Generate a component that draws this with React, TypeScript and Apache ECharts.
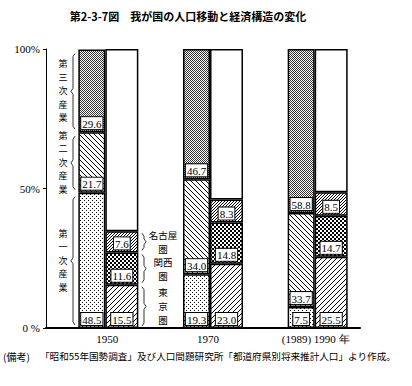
import React, { useEffect, useRef } from 'react';
import * as echarts from 'echarts';

const categories = ['1950', '1970', '1990'];
const xTickLabels = ['1950', '1970', '(1989) 1990 年'];
const yTickLabels = ['0 %', '50%', '100%'];
const primary = [48.5, 19.3, 7.5];
const secondary = [21.7, 34.0, 33.7];
const tertiary = [29.6, 46.7, 58.8];
const tokyo = [15.5, 23.0, 25.5];
const kansai = [11.6, 14.8, 14.7];
const nagoya = [7.6, 8.3, 8.5];
const others = [65.3, 53.9, 51.3];
const spacer = [0, 0, 0];
const industryNames = ['第一次産業', '第二次産業', '第三次産業'];
const regionNames = ['東京圏', '関西圏', '名古屋圏'];
const regionLabelText = ['東\n京\n圏', '関西\n圏', '名古屋\n圏'];
const title = '第2-3-7図　我が国の人口移動と経済構造の変化';
const noteHead = '(備考)';
const noteBody = '「昭和55年国勢調査」及び人口問題研究所「都道府県別将来推計人口」より作成。';

const JP = '"Noto Sans CJK JP", sans-serif';
const SERIF = '"Liberation Serif", "DejaVu Serif", serif';

function pat(size: number, pixels: number[][], color = '#000') {
  const c = document.createElement('canvas');
  c.width = size;
  c.height = size;
  const ctx = c.getContext('2d')!;
  ctx.fillStyle = '#fff';
  ctx.fillRect(0, 0, size, size);
  ctx.fillStyle = color;
  pixels.forEach(([x, y, w = 1]) => ctx.fillRect(x, y, w, w));
  return { image: c, repeat: 'repeat', imageWidth: size, imageHeight: size } as any;
}

export default function App() {
  const ref = useRef<HTMLDivElement>(null);
  useEffect(() => {
    if (!ref.current) return;
    const chart = echarts.init(ref.current, null, { renderer: 'svg' });

    const pTert = pat(2, [[0, 0], [1, 1]], '#333');
    const pSec = pat(5, [[0, 0], [1, 1], [2, 2], [3, 3], [4, 4]]);
    const pPrim = pat(4, [[0, 0], [2, 2]]);
    const pKansai = pat(4, [[0, 0, 2], [2, 2, 2]]);
    const pNagoya = pat(3, [[0, 2], [1, 1], [2, 0]]);
    const pTokyo = pat(5, [[0, 4], [1, 3], [2, 2], [3, 1], [4, 0]]);

    const labelStyle = {
      show: true,
      position: 'insideBottom',
      distance: 3,
      formatter: (p: any) => Number(p.value).toFixed(1),
      fontFamily: SERIF,
      fontSize: 11,
      color: '#000',
      backgroundColor: '#fff',
      borderColor: '#000',
      borderWidth: 1,
      padding: [1, 1, 0, 1],
    };

    const seg = (name: string, data: number[], stack: string, width: number, color: any, showLabel = true) => ({
      type: 'bar',
      name,
      data,
      stack,
      barWidth: width,
      barGap: '0%',
      silent: true,
      itemStyle: { color, borderColor: '#000', borderWidth: 1.5 },
      label: showLabel ? labelStyle : { show: false },
    });

    const xShift = [18, 10, 16];

    chart.setOption({
      animation: false,
      backgroundColor: '#fff',
      grid: { left: 46, right: 52, top: 49, bottom: 58 },
      xAxis: {
        type: 'category',
        data: categories.map((c, i) => ({ value: c, textStyle: { padding: [0, 0, 0, xShift[i]] } })),
        axisLine: { lineStyle: { color: '#000', width: 2 } },
        axisTick: { show: false },
        axisLabel: {
          formatter: (_v: string, i: number) => xTickLabels[i],
          fontFamily: SERIF,
          fontSize: 11,
          color: '#000',
          margin: 5,
        },
      },
      yAxis: {
        type: 'value',
        min: 0,
        max: 100,
        interval: 50,
        axisLine: { show: true, lineStyle: { color: '#000', width: 1 } },
        axisTick: { show: true, length: 3, lineStyle: { color: '#000' } },
        splitLine: { show: false },
        axisLabel: {
          formatter: (v: number) => yTickLabels[Math.round(v / 50)],
          fontFamily: SERIF,
          fontSize: 11,
          color: '#000',
          margin: 6,
        },
      },
      series: [
        {
          type: 'bar', name: 'spacer', data: spacer, stack: 'sp', barWidth: 20, barGap: '0%', silent: true,
          itemStyle: { color: 'rgba(0,0,0,0)', borderWidth: 0 }, label: { show: false },
        },
        seg(industryNames[0], primary, 'ind', 27, pPrim),
        seg(industryNames[1], secondary, 'ind', 27, pSec),
        seg(industryNames[2], tertiary, 'ind', 27, pTert),
        seg(regionNames[0], tokyo, 'reg', 33, pTokyo),
        seg(regionNames[1], kansai, 'reg', 33, pKansai),
        seg(regionNames[2], nagoya, 'reg', 33, pNagoya),
        seg('その他', others, 'reg', 33, '#fff', false),
      ],
    });

    const yPix = (v: number) => chart.convertToPixel({ yAxisIndex: 0 } as any, v) as number;
    const indB = [0, primary[0], primary[0] + secondary[0], primary[0] + secondary[0] + tertiary[0]];
    const regB = [0, tokyo[0], tokyo[0] + kansai[0], tokyo[0] + kansai[0] + nagoya[0]];

    const txt = (text: string, x: number, y: number, size: number, opts: any = {}) => ({
      type: 'text',
      x, y, silent: true,
      style: {
        text, x: 0, y: 0,
        fontSize: size, fontFamily: JP, fill: '#000',
        align: opts.align || 'center', textAlign: opts.align || 'center',
        verticalAlign: 'middle', textVerticalAlign: 'middle',
        lineHeight: opts.lineHeight, fontWeight: opts.weight || 'normal',
      },
    });

    const brace = (x0: number, yTop: number, yBot: number, dir: number) => {
      const mid = (yTop + yBot) / 2;
      return {
        type: 'polyline', silent: true,
        shape: {
          points: [
            [x0 - dir * 2, yTop], [x0, yTop + 3], [x0, mid - 3], [x0 + dir * 2, mid],
            [x0, mid + 3], [x0, yBot - 3], [x0 - dir * 2, yBot],
          ],
        },
        style: { stroke: '#000', lineWidth: 0.8, fill: 'none' },
      };
    };

    const graphics: any[] = [
      txt(title, 188, 16, 11, { weight: 'bold' }),
      txt(noteHead, 3, 356, 10, { align: 'left' }),
      txt(noteBody, 40, 356, 9.6, { align: 'left' }),
    ];
    for (let k = 0; k < 3; k++) {
      const yT = yPix(indB[k + 1]);
      const yB = yPix(indB[k]);
      graphics.push(brace(73, yT + 4, yB - 3, -1));
      graphics.push(txt(industryNames[k].split('').join('\n'), 63, (yT + yB) / 2, 9, { lineHeight: 13.5 }));
      const rT = yPix(regB[k + 1]);
      const rB = yPix(regB[k]);
      graphics.push(brace(144, rT + 2, rB - 2, 1));
      graphics.push(txt(regionLabelText[k], 163, (rT + rB) / 2, 9.5, { lineHeight: 14 }));
    }
    chart.setOption({ graphic: { elements: graphics } });

    return () => chart.dispose();
  }, []);

  return (
    <div
      ref={ref}
      style={{ position: 'absolute', left: 0, top: 0, width: 412, height: 386, background: '#fff' }}
    />
  );
}
